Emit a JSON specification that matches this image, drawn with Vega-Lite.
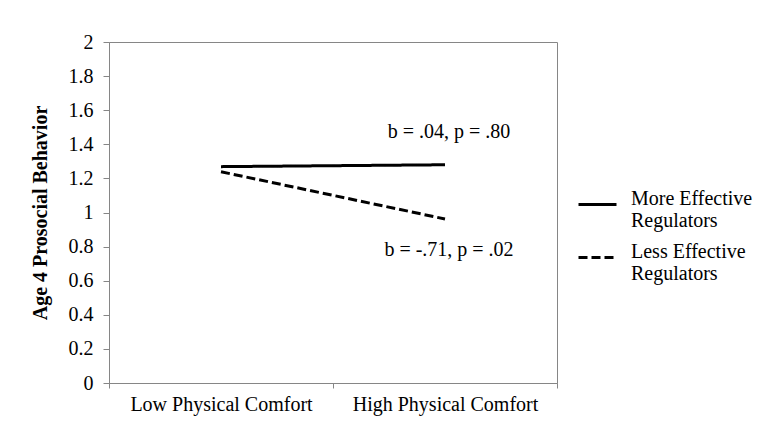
{
  "$schema": "https://vega.github.io/schema/vega-lite/v6.json",
  "width": 448,
  "height": 341,
  "autosize": {"type": "none"},
  "padding": {"left": 109, "top": 42, "right": 203, "bottom": 64},
  "background": "white",
  "config": {
    "view": {"stroke": "#868686", "strokeWidth": 1},
    "font": "Liberation Serif",
    "axis": {
      "domainColor": "#868686",
      "tickColor": "#868686",
      "labelColor": "black",
      "labelFont": "Liberation Serif",
      "labelFontSize": 20,
      "titleFont": "Liberation Serif",
      "titleColor": "black",
      "grid": false,
      "labelOverlap": false,
      "labelLimit": 0
    },
    "legend": {
      "labelFont": "Liberation Serif",
      "labelFontSize": 20,
      "labelColor": "black"
    }
  },
  "datasets": {
    "lines": [
      {"comfort": "Low Physical Comfort", "group": "More Effective Regulators", "value": 1.269},
      {"comfort": "High Physical Comfort", "group": "More Effective Regulators", "value": 1.28},
      {"comfort": "Low Physical Comfort", "group": "Less Effective Regulators", "value": 1.239},
      {"comfort": "High Physical Comfort", "group": "Less Effective Regulators", "value": 0.962}
    ],
    "notes": [
      {"comfort": "High Physical Comfort", "value": 1.47, "label": "b = .04, p = .80"},
      {"comfort": "High Physical Comfort", "value": 0.78, "label": "b = -.71, p = .02"}
    ]
  },
  "encoding": {
    "x": {
      "field": "comfort",
      "type": "nominal",
      "sort": ["Low Physical Comfort", "High Physical Comfort"],
      "bandPosition": 0.5,
      "scale": {"type": "band", "paddingInner": 0, "paddingOuter": 0},
      "axis": {
        "title": null,
        "labelAngle": 0,
        "tickBand": "extent",
        "tickSize": 5,
        "labelPadding": 6
      }
    },
    "y": {
      "field": "value",
      "type": "quantitative",
      "scale": {"domain": [0, 2], "nice": false},
      "axis": {
        "title": "Age 4 Prosocial Behavior",
        "titleFontSize": 20,
        "titleFontWeight": "bold",
        "titlePadding": 18,
        "values": [0, 0.2, 0.4, 0.6, 0.8, 1, 1.2, 1.4, 1.6, 1.8, 2],
        "labelOverlap": false,
        "labelSeparation": 0,
        "labelExpr": "format(datum.value, '~g')",
        "tickSize": 6,
        "labelPadding": 10
      }
    }
  },
  "layer": [
    {
      "data": {"name": "lines"},
      "mark": {"type": "line", "strokeWidth": 3, "color": "black"},
      "encoding": {
        "strokeDash": {
          "field": "group",
          "type": "nominal",
          "scale": {
            "domain": ["More Effective Regulators", "Less Effective Regulators"],
            "range": [[1, 0], [9, 4]]
          },
          "legend": {
            "title": null,
            "orient": "none",
            "legendX": 468,
            "legendY": 142,
            "symbolType": "stroke",
            "symbolSize": 1444,
            "symbolStrokeWidth": 3,
            "symbolStrokeColor": "black",
            "labelOffset": 13,
            "labelBaseline": "alphabetic",
            "rowPadding": 6,
            "labelExpr": "datum.label == 'More Effective Regulators' ? ['More Effective', 'Regulators'] : ['Less Effective', 'Regulators']"
          }
        }
      }
    },
    {
      "data": {"name": "notes"},
      "mark": {"type": "text", "fontSize": 20, "font": "Liberation Serif", "color": "black", "align": "center", "baseline": "middle", "dx": 4},
      "encoding": {
        "text": {"field": "label"}
      }
    }
  ]
}
